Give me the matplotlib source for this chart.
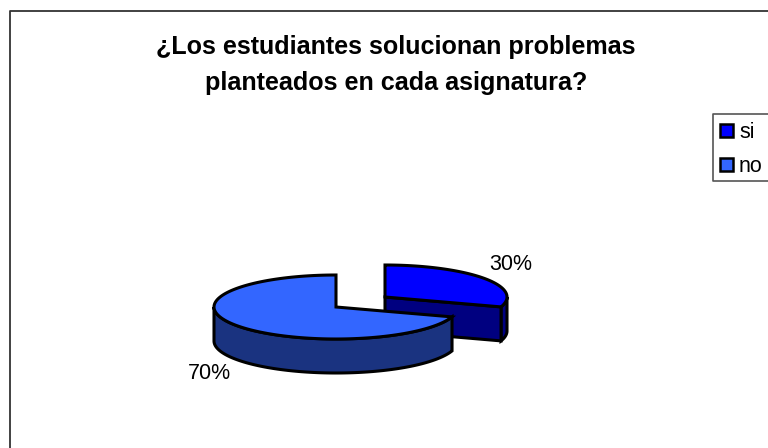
import numpy as np
import matplotlib
matplotlib.use("Agg")
import matplotlib.pyplot as plt
from matplotlib.patches import Polygon, Rectangle

plt.rcParams['font.family'] = ['Liberation Sans', 'DejaVu Sans']

labels = ["si", "no"]
values = [30, 70]
percent_labels = ["30%", "70%"]
title = "¿Los estudiantes solucionan problemas\nplanteados en cada asignatura?"

top_colors = ["#0000FF", "#3366FF"]
side_colors = ["#000080", "#1A3380"]
centers = [(385, 297), (336, 307)]
RX, RY, DEPTH = 122, 32, 34
LW = 2.2

fig = plt.figure(figsize=(7.68, 4.48), dpi=100)
ax = fig.add_axes([0, 0, 1, 1])
ax.set_xlim(0, 768)
ax.set_ylim(448, 0)
ax.axis("off")

# chart frame
ax.plot([9.5, 9.5, 768], [448, 11, 11], color="#333333", lw=1.3, zorder=1)


def arc(center, a0, a1, n=120, dy=0):
    t = np.radians(np.linspace(a0, a1, n))
    return np.column_stack([center[0] + RX * np.cos(t),
                            center[1] - RY * np.sin(t) + dy])


def draw_slice(i, start, end, z):
    c = centers[i]
    # outer wall: the part of the rim that faces the viewer
    lo, hi = max(end, -180), min(start, 0)
    if hi > lo:
        wall = np.vstack([arc(c, hi, lo), arc(c, lo, hi, dy=DEPTH)])
        ax.add_patch(Polygon(wall, closed=True, fc=side_colors[i], ec="black",
                             lw=LW, joinstyle="miter", zorder=z))
    # the cut face of the first slice looks toward the viewer
    if i == 0:
        tip = arc(c, end, end, n=1)[0]
        face = [c, tip, (tip[0], tip[1] + DEPTH), (c[0], c[1] + DEPTH)]
        ax.add_patch(Polygon(face, closed=True, fc=side_colors[i], ec="black",
                             lw=LW, joinstyle="miter", zorder=z + 0.1))
    # top face
    top = np.vstack([[c], arc(c, start, end)])
    ax.add_patch(Polygon(top, closed=True, fc=top_colors[i], ec="black",
                         lw=LW, joinstyle="miter", zorder=z + 0.2))


angle = 90.0
total = sum(values)
for i, v in enumerate(values):
    sweep = 360.0 * v / total
    draw_slice(i, angle, angle - sweep, 3 + i)
    angle -= sweep

ax.text(511, 265, percent_labels[0], fontsize=15.5, ha="center", va="center", color="black", zorder=6)
ax.text(209, 373.5, percent_labels[1], fontsize=15.5, ha="center", va="center", color="black", zorder=6)

ax.text(396, 65, title, fontsize=18.1, fontweight="bold", ha="center", va="center",
        linespacing=1.6, color="black", zorder=6)

# legend
ax.plot([768, 713, 713, 768], [114, 114, 181, 181], color="#555555", lw=1.2, zorder=2)
for i, (lab, y) in enumerate(zip(labels, [130.5, 164.5])):
    ax.add_patch(Rectangle((720, y - 6.5), 13, 13, fc=top_colors[i], ec="black", lw=1.8, zorder=3))
    ax.text(739, y + 1.5, lab, fontsize=15.5, ha="left", va="center", color="black", zorder=3)

fig.savefig("out.png", dpi=100)
